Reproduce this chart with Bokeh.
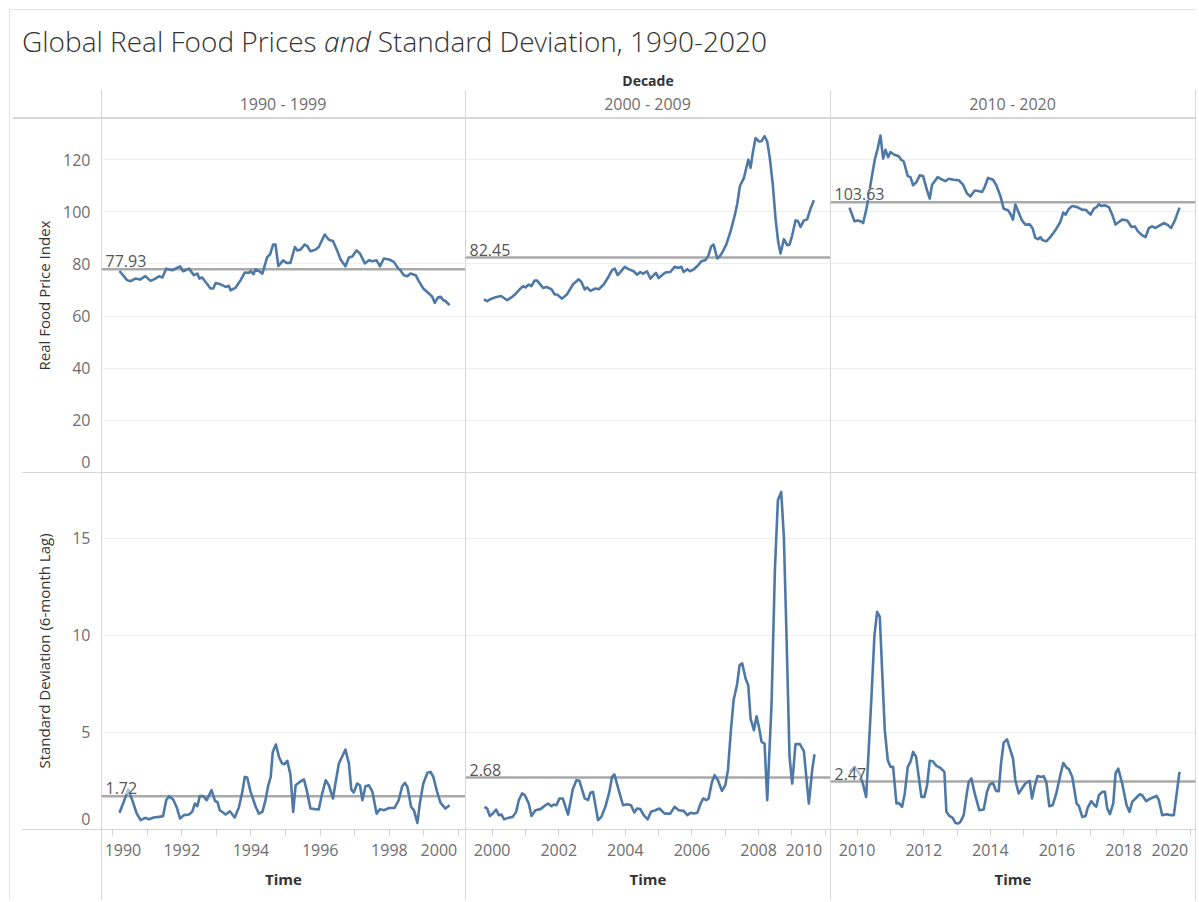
from bokeh.plotting import figure
from bokeh.layouts import column, row
from bokeh.models import Div, Range1d, FixedTicker, Label, Span, ColumnDataSource, Grid
from bokeh.embed import file_html
from bokeh.resources import INLINE

# ---------------- data ----------------
decade_labels = ["1990 - 1999", "2000 - 2009", "2010 - 2020"]
price_means = [77.93, 82.45, 103.63]
sd_means = [1.72, 2.68, 2.47]

price_ticks = [0, 20, 40, 60, 80, 100, 120]
sd_ticks = [0, 5, 10, 15]
time_ticks_1990s = [1990, 1992, 1994, 1996, 1998, 2000]
time_ticks_2000s = [2000, 2002, 2004, 2006, 2008, 2010]
time_ticks_2010s = [2010, 2012, 2014, 2016, 2018, 2020]
minor_1990s = [1991, 1993, 1995, 1997, 1999]
minor_2000s = [2001, 2003, 2005, 2007, 2009]
minor_2010s = [2011, 2013, 2015, 2017, 2019]

price_t_1990s = [1990.20, 1990.42, 1990.52, 1990.66, 1990.79, 1990.95, 1991.10, 1991.24, 1991.34, 1991.44,
                 1991.55, 1991.73, 1991.82, 1991.95, 1992.04, 1992.21, 1992.35, 1992.45, 1992.51, 1992.59,
                 1992.69, 1992.83, 1992.91, 1992.98, 1993.12, 1993.27, 1993.36, 1993.41, 1993.55, 1993.70,
                 1993.82, 1993.94, 1993.99, 1994.07, 1994.13, 1994.23, 1994.33, 1994.47, 1994.55, 1994.64,
                 1994.71, 1994.79, 1994.93, 1995.03, 1995.14, 1995.27, 1995.34, 1995.43, 1995.55, 1995.63,
                 1995.72, 1995.87, 1995.96, 1996.13, 1996.25, 1996.37, 1996.49, 1996.59, 1996.73, 1996.83,
                 1996.93, 1997.05, 1997.15, 1997.29, 1997.41, 1997.51, 1997.63, 1997.73, 1997.84, 1997.99,
                 1998.13, 1998.26, 1998.30, 1998.42, 1998.52, 1998.61, 1998.76, 1998.85, 1998.98, 1999.14,
                 1999.24, 1999.31, 1999.40, 1999.48, 1999.56, 1999.62, 1999.74]
price_1990s = [77.3, 73.8, 73.4, 74.4, 74.0, 75.3, 73.5, 74.4, 75.3, 74.8,
               78.2, 77.6, 78.2, 79.1, 77.2, 78.2, 75.7, 76.3, 74.4, 74.8,
               73.1, 70.6, 70.6, 72.7, 72.2, 71.2, 71.6, 69.9, 70.8, 73.8,
               76.7, 76.6, 77.3, 76.1, 77.9, 77.3, 76.3, 82.7, 83.6, 87.4,
               87.4, 79.2, 81.4, 80.4, 80.4, 86.5, 85.2, 85.5, 87.4, 86.8,
               84.9, 85.5, 86.5, 91.3, 89.3, 88.8, 85.2, 81.7, 79.1, 82.5,
               82.9, 85.2, 84.0, 80.2, 81.4, 81.0, 81.4, 79.1, 82.1, 81.7,
               80.8, 78.2, 77.9, 75.7, 75.3, 76.3, 75.7, 73.4, 70.6, 68.7,
               67.4, 65.1, 67.1, 67.4, 66.1, 65.8, 64.2]

price_t_2000s = [1999.75, 1999.85, 1999.95, 2000.10, 2000.27, 2000.45, 2000.60, 2000.72, 2000.82, 2000.93,
                 2001.00, 2001.10, 2001.18, 2001.27, 2001.35, 2001.53, 2001.63, 2001.78, 2001.88, 2001.95,
                 2002.10, 2002.25, 2002.43, 2002.60, 2002.68, 2002.78, 2002.85, 2002.95, 2003.10, 2003.20,
                 2003.35, 2003.48, 2003.60, 2003.68, 2003.77, 2003.85, 2003.98, 2004.10, 2004.25, 2004.35,
                 2004.45, 2004.53, 2004.65, 2004.75, 2004.85, 2004.92, 2005.00, 2005.10, 2005.20, 2005.35,
                 2005.48, 2005.60, 2005.68, 2005.75, 2005.86, 2005.94, 2006.05, 2006.16, 2006.28, 2006.40,
                 2006.49, 2006.58, 2006.65, 2006.76, 2006.83, 2006.91, 2007.03, 2007.16, 2007.29, 2007.36,
                 2007.44, 2007.56, 2007.69, 2007.76, 2007.83, 2007.91, 2008.01, 2008.09, 2008.18, 2008.26,
                 2008.34, 2008.43, 2008.51, 2008.59, 2008.66, 2008.76, 2008.86, 2008.93, 2009.01, 2009.11,
                 2009.18, 2009.26, 2009.36, 2009.46, 2009.56, 2009.66]
price_2000s = [66.4, 65.7, 66.5, 67.2, 67.7, 66.1, 67.4, 68.7, 70.2, 71.5,
               71.0, 72.1, 71.5, 73.6, 73.6, 70.8, 71.2, 70.3, 68.3, 68.3,
               66.7, 68.4, 72.2, 74.1, 73.1, 70.2, 71.0, 69.7, 70.6, 70.3,
               72.1, 74.8, 77.6, 78.2, 75.7, 76.9, 78.9, 78.0, 77.2, 75.9,
               76.9, 76.3, 77.2, 74.4, 75.7, 76.6, 74.6, 75.7, 76.7, 76.9,
               78.9, 78.5, 78.9, 76.9, 78.0, 77.2, 77.9, 79.2, 81.0, 81.4,
               83.1, 86.8, 87.4, 82.1, 82.9, 84.4, 87.4, 92.6, 98.9, 103.1,
               109.9, 113.0, 120.0, 116.9, 122.9, 128.3, 127.0, 127.1, 129.0, 127.0,
               120.4, 110.2, 97.4, 88.4, 84.0, 89.5, 87.2, 87.4, 91.0, 96.7,
               96.5, 94.2, 96.7, 97.1, 101.2, 104.4]

price_t_2010s = [2009.77, 2009.92, 2010.02, 2010.10, 2010.18, 2010.28, 2010.35, 2010.43, 2010.53, 2010.62,
                 2010.70, 2010.78, 2010.85, 2010.93, 2011.00, 2011.12, 2011.25, 2011.32, 2011.40, 2011.52,
                 2011.60, 2011.68, 2011.78, 2011.88, 2011.98, 2012.10, 2012.18, 2012.25, 2012.42, 2012.50,
                 2012.65, 2012.75, 2012.90, 2013.05, 2013.18, 2013.30, 2013.40, 2013.53, 2013.65, 2013.75,
                 2013.83, 2013.93, 2014.08, 2014.18, 2014.30, 2014.40, 2014.53, 2014.60, 2014.68, 2014.75,
                 2014.85, 2014.95, 2015.05, 2015.18, 2015.27, 2015.35, 2015.44, 2015.50, 2015.57, 2015.68,
                 2015.80, 2015.95, 2016.10, 2016.19, 2016.26, 2016.36, 2016.46, 2016.61, 2016.76, 2016.86,
                 2017.01, 2017.11, 2017.19, 2017.26, 2017.33, 2017.43, 2017.56, 2017.66, 2017.76, 2017.86,
                 2017.96, 2018.11, 2018.24, 2018.34, 2018.43, 2018.56, 2018.66, 2018.76, 2018.86, 2018.96,
                 2019.09, 2019.21, 2019.31, 2019.43, 2019.54, 2019.68]
price_2010s = [101.6, 96.4, 96.7, 96.4, 95.7, 101.2, 106.3, 112.7, 120.0, 124.4,
               129.3, 120.4, 123.8, 121.0, 122.9, 121.9, 121.3, 120.0, 119.3, 113.7,
               113.3, 110.2, 111.4, 114.0, 113.7, 108.2, 105.1, 110.4, 113.3, 112.7,
               111.8, 112.7, 112.3, 112.1, 110.4, 107.0, 105.9, 108.2, 108.0, 107.6,
               109.5, 113.0, 112.3, 110.2, 106.1, 101.2, 100.6, 99.3, 97.0, 102.8,
               99.7, 96.7, 95.1, 95.2, 93.6, 90.0, 89.5, 90.3, 89.1, 88.7,
               90.3, 92.9, 96.1, 99.7, 98.9, 101.2, 102.2, 101.8, 100.8, 100.8,
               98.9, 101.2, 101.8, 102.9, 102.2, 102.5, 101.8, 98.9, 95.1, 96.1,
               97.0, 96.7, 94.2, 94.4, 92.5, 91.0, 90.3, 93.8, 94.4, 93.8,
               94.8, 95.7, 95.1, 93.8, 96.7, 101.6]

sd_t_1990s = [1990.20, 1990.33, 1990.45, 1990.57, 1990.69, 1990.81, 1990.95, 1991.05, 1991.19, 1991.34,
              1991.46, 1991.55, 1991.63, 1991.75, 1991.85, 1991.95, 1992.06, 1992.21, 1992.30, 1992.38,
              1992.45, 1992.52, 1992.62, 1992.72, 1992.86, 1992.96, 1993.03, 1993.10, 1993.27, 1993.39,
              1993.53, 1993.65, 1993.75, 1993.82, 1993.89, 1993.99, 1994.13, 1994.23, 1994.33, 1994.42,
              1994.49, 1994.57, 1994.63, 1994.72, 1994.81, 1994.90, 1994.97, 1995.05, 1995.14, 1995.22,
              1995.29, 1995.41, 1995.53, 1995.61, 1995.72, 1995.85, 1995.96, 1996.05, 1996.16, 1996.25,
              1996.37, 1996.44, 1996.54, 1996.73, 1996.83, 1996.90, 1996.97, 1997.07, 1997.15, 1997.22,
              1997.31, 1997.41, 1997.51, 1997.63, 1997.73, 1997.84, 1997.99, 1998.15, 1998.27, 1998.37,
              1998.45, 1998.52, 1998.63, 1998.71, 1998.81, 1998.88, 1998.98, 1999.10, 1999.19, 1999.27,
              1999.38, 1999.48, 1999.62, 1999.74]
sd_1990s = [0.86, 1.46, 2.06, 1.51, 0.86, 0.48, 0.60, 0.53, 0.62, 0.65,
            0.69, 1.51, 1.72, 1.55, 1.16, 0.57, 0.74, 0.77, 0.91, 1.34,
            1.20, 1.72, 1.72, 1.51, 2.03, 1.47, 1.42, 0.99, 0.77, 0.94,
            0.62, 1.13, 1.94, 2.71, 2.68, 1.94, 1.20, 0.82, 0.91, 1.51,
            2.20, 2.71, 4.00, 4.38, 3.74, 3.40, 3.37, 3.54, 2.84, 0.91,
            2.28, 2.45, 2.58, 2.03, 1.08, 1.05, 1.03, 1.80, 2.54, 2.28,
            1.60, 2.37, 3.40, 4.12, 3.40, 2.06, 1.91, 2.37, 2.28, 1.51,
            2.23, 2.28, 1.94, 0.82, 1.05, 0.99, 1.11, 1.11, 1.51, 2.23,
            2.40, 2.20, 1.16, 0.99, 0.34, 1.34, 2.37, 2.92, 2.97, 2.71,
            1.94, 1.37, 1.08, 1.25]

sd_t_2000s = [1999.77, 1999.85, 1999.93, 2000.02, 2000.12, 2000.20, 2000.28, 2000.36, 2000.48, 2000.62,
              2000.72, 2000.80, 2000.90, 2000.98, 2001.10, 2001.18, 2001.30, 2001.45, 2001.60, 2001.68,
              2001.78, 2001.85, 2001.93, 2002.02, 2002.12, 2002.28, 2002.42, 2002.53, 2002.62, 2002.78,
              2002.88, 2002.95, 2003.03, 2003.18, 2003.28, 2003.40, 2003.52, 2003.60, 2003.67, 2003.80,
              2003.93, 2004.05, 2004.17, 2004.27, 2004.35, 2004.45, 2004.55, 2004.67, 2004.77, 2004.90,
              2005.02, 2005.18, 2005.35, 2005.48, 2005.60, 2005.75, 2005.86, 2005.96, 2006.05, 2006.16,
              2006.26, 2006.34, 2006.43, 2006.50, 2006.60, 2006.68, 2006.78, 2006.90, 2007.00, 2007.08,
              2007.17, 2007.25, 2007.36, 2007.43, 2007.51, 2007.61, 2007.69, 2007.76, 2007.86, 2007.94,
              2008.01, 2008.09, 2008.18, 2008.26, 2008.39, 2008.49, 2008.58, 2008.68, 2008.76, 2008.84,
              2008.93, 2009.01, 2009.11, 2009.24, 2009.36, 2009.51, 2009.61, 2009.68]
sd_2000s = [1.17, 1.08, 0.69, 0.82, 1.03, 0.74, 0.77, 0.52, 0.60, 0.65,
            0.91, 1.51, 1.86, 1.77, 1.34, 0.70, 0.99, 1.05, 1.25, 1.34,
            1.20, 1.29, 1.25, 1.60, 1.60, 0.77, 2.06, 2.54, 2.51, 1.60,
            1.51, 1.89, 1.94, 0.48, 0.65, 1.17, 1.94, 2.71, 2.84, 2.03,
            1.25, 1.30, 1.25, 0.88, 1.08, 1.05, 0.74, 0.52, 0.91, 0.99,
            1.08, 0.82, 0.82, 1.17, 0.99, 0.96, 0.74, 0.86, 0.82, 0.86,
            1.34, 1.60, 1.51, 1.60, 2.45, 2.80, 2.54, 1.99, 2.28, 3.06,
            5.12, 6.66, 7.53, 8.47, 8.56, 7.78, 7.44, 5.72, 5.12, 5.84,
            5.29, 4.52, 4.43, 1.51, 6.49, 13.37, 16.97, 17.40, 15.08, 9.93,
            3.74, 2.37, 4.40, 4.40, 4.04, 1.34, 3.06, 3.88]

sd_t_2010s = [2009.77, 2009.93, 2010.10, 2010.17, 2010.27, 2010.33, 2010.42, 2010.52, 2010.60, 2010.68,
              2010.75, 2010.83, 2010.92, 2011.00, 2011.08, 2011.18, 2011.25, 2011.35, 2011.43, 2011.52,
              2011.60, 2011.68, 2011.77, 2011.85, 2011.93, 2012.02, 2012.10, 2012.18, 2012.27, 2012.38,
              2012.50, 2012.62, 2012.68, 2012.77, 2012.87, 2012.95, 2013.03, 2013.10, 2013.20, 2013.30,
              2013.35, 2013.43, 2013.53, 2013.67, 2013.80, 2013.90, 2013.98, 2014.08, 2014.17, 2014.25,
              2014.32, 2014.40, 2014.50, 2014.68, 2014.75, 2014.85, 2014.95, 2015.05, 2015.18, 2015.25,
              2015.33, 2015.42, 2015.53, 2015.60, 2015.68, 2015.77, 2015.87, 2015.98, 2016.10, 2016.19,
              2016.29, 2016.36, 2016.46, 2016.59, 2016.66, 2016.76, 2016.86, 2016.92, 2017.03, 2017.11,
              2017.18, 2017.26, 2017.36, 2017.44, 2017.51, 2017.59, 2017.69, 2017.76, 2017.84, 2017.96,
              2018.09, 2018.18, 2018.26, 2018.36, 2018.49, 2018.56, 2018.68, 2018.81, 2018.99, 2019.06,
              2019.16, 2019.31, 2019.41, 2019.51, 2019.68]
sd_2010s = [3.00, 3.20, 2.80, 2.37, 1.68, 3.57, 6.49, 10.02, 11.22, 10.96,
            8.21, 5.12, 3.57, 3.23, 3.23, 1.34, 1.37, 1.17, 1.86, 3.23,
            3.48, 4.00, 3.74, 2.71, 1.68, 1.68, 2.28, 3.54, 3.52, 3.28,
            3.18, 2.97, 0.91, 0.70, 0.60, 0.34, 0.31, 0.39, 0.74, 1.94,
            2.45, 2.63, 1.86, 0.99, 1.03, 1.94, 2.32, 2.40, 1.99, 1.97,
            3.40, 4.48, 4.64, 3.66, 2.54, 1.86, 2.11, 2.37, 2.51, 1.60,
            2.23, 2.76, 2.71, 2.75, 2.45, 1.20, 1.25, 1.86, 2.80, 3.43,
            3.18, 3.11, 2.71, 1.34, 1.20, 0.65, 0.70, 1.11, 1.46, 1.29,
            1.17, 1.77, 1.94, 1.94, 1.08, 0.79, 1.34, 2.89, 3.14, 2.37,
            1.25, 0.91, 1.42, 1.60, 1.82, 1.77, 1.46, 1.60, 1.73, 1.51,
            0.74, 0.79, 0.74, 0.74, 2.97]

# ---------------- styling / layout ----------------
FONT = "Open Sans"
BLUE = "#4e79a7"
PANE = "#d6d6d6"
OUTER = "#e4e4e4"
TICK_COLOR = "#6e6e6e"
NB = "\u00a0"

price_t = [price_t_1990s, price_t_2000s, price_t_2010s]
price_v = [price_1990s, price_2000s, price_2010s]
sd_t = [sd_t_1990s, sd_t_2000s, sd_t_2010s]
sd_v = [sd_1990s, sd_2000s, sd_2010s]
x_ticks = [time_ticks_1990s, time_ticks_2000s, time_ticks_2010s]
x_minor = [minor_1990s, minor_2000s, minor_2010s]
x_ranges = [(1989.68, 2000.20), (1999.20, 2010.16), (2009.20, 2020.16)]
# Tableau nudges the outermost year labels inside the pane
label_over = [
    {time_ticks_1990s[0]: NB * 5 + str(time_ticks_1990s[0]), time_ticks_1990s[-1]: str(time_ticks_1990s[-1]) + NB * 2},
    {time_ticks_2000s[-1]: str(time_ticks_2000s[-1]) + NB * 2},
    {time_ticks_2010s[-1]: str(time_ticks_2010s[-1]) + NB * 2},
]

LEFT = 101            # width of the y-axis area (page x of the first pane border)
FRAME_W = [364, 365, 365]
HDR_H = 118
TOP_H = 354
BOT_FRAME_H = 357
BOT_AXIS_H = 71
ZERO_LIFT_PX = 10.5   # Tableau lifts the "0" label inside the pane


def css_lines(segs):
    parts = []
    for x, y, w, h, c in segs:
        parts.append(f"linear-gradient({c},{c}) {x}px {y}px / {w} {h} no-repeat")
    return {"background": ", ".join(parts)}


def make_panel(i, top):
    left = LEFT if i == 0 else 0
    right = 1 if i == 2 else 0
    width = left + FRAME_W[i] + right
    frame_h = TOP_H if top else BOT_FRAME_H
    height = TOP_H if top else BOT_FRAME_H + BOT_AXIS_H
    yr = (0, 135.8) if top else (0, 18.4)
    p = figure(width=width, height=height, output_backend="svg", toolbar_location=None,
               x_range=Range1d(*x_ranges[i]), y_range=Range1d(*yr),
               x_axis_location=None if top else "below",
               y_axis_location="left" if i == 0 else None,
               min_border_left=left, min_border_right=right,
               min_border_top=0, min_border_bottom=0 if top else BOT_AXIS_H)
    p.outline_line_color = None
    p.border_fill_alpha = 0
    p.background_fill_alpha = 0
    p.grid.visible = False
    yt = price_ticks if top else sd_ticks
    p.add_layout(Grid(dimension=1, ticker=FixedTicker(ticks=yt), grid_line_color="#eeeeee", grid_line_width=1))

    # pane borders drawn as CSS lines behind the transparent canvas
    segs = []
    if i == 0:
        segs += [(9, 0, "1px", "100%", OUTER), (LEFT, 0, "1px", "100%", PANE)]
        if top:
            segs += [(13, 0, f"{width - 13}px", "1px", PANE)]
        else:
            segs += [(22, 0, f"{width - 22}px", "1px", PANE), (22, BOT_FRAME_H, f"{width - 22}px", "1px", PANE)]
    else:
        segs += [(0, 0, "1px", "100%", PANE), (0, 0, "100%", "1px", PANE)]
        if not top:
            segs += [(0, BOT_FRAME_H, "100%", "1px", PANE)]
        if i == 2:
            segs += [(width - 1, 0, "1px", "100%", PANE)]
    p.styles = css_lines(segs)

    if i == 0:
        ax = p.yaxis[0]
        zero_pos = round(yt[0] + ZERO_LIFT_PX * (yr[1] - yr[0]) / frame_h, 3)
        ax.ticker = FixedTicker(ticks=[zero_pos] + yt[1:])
        ax.major_label_overrides = {zero_pos: str(yt[0])}
        ax.axis_label = "Real Food Price Index" if top else "Standard Deviation (6-month Lag)"
        ax.axis_label_text_font = FONT
        ax.axis_label_text_font_size = "15px"
        ax.axis_label_text_font_style = "normal"
        ax.axis_label_text_color = "#333333"
        ax.axis_label_standoff = 6 if top else 15
        ax.major_label_text_font = FONT
        ax.major_label_text_font_size = "16px"
        ax.major_label_text_color = TICK_COLOR
        ax.major_label_standoff = 5
        ax.axis_line_color = None
        ax.major_tick_line_color = None
        ax.minor_tick_line_color = None

    if not top:
        ax = p.xaxis[0]
        ax.ticker = FixedTicker(ticks=x_ticks[i], minor_ticks=x_minor[i])
        ax.major_label_overrides = label_over[i]
        ax.axis_label = "Time"
        ax.axis_label_text_font = FONT
        ax.axis_label_text_font_size = "15px"
        ax.axis_label_text_font_style = "bold"
        ax.axis_label_text_color = "#333333"
        ax.axis_label_standoff = 5
        ax.major_label_text_font = FONT
        ax.major_label_text_font_size = "16px"
        ax.major_label_text_color = TICK_COLOR
        ax.major_label_standoff = 3
        ax.axis_line_color = None
        ax.major_tick_line_color = "#d0d0d0"
        ax.minor_tick_line_color = "#d0d0d0"
        ax.major_tick_in = 0
        ax.major_tick_out = 6
        ax.minor_tick_in = 0
        ax.minor_tick_out = 6

    mean = price_means[i] if top else sd_means[i]
    p.add_layout(Span(location=mean, dimension="width", line_color="#a9a9a9", line_width=2.5, level="underlay"))
    src = ColumnDataSource(dict(t=(price_t if top else sd_t)[i], v=(price_v if top else sd_v)[i]))
    p.line("t", "v", source=src, line_color=BLUE, line_width=2.6, line_join="round")
    p.add_layout(Label(x=x_ranges[i][0], y=mean, x_offset=4, y_offset=2, text=f"{mean:.2f}",
                       text_font=FONT, text_font_size="16px", text_color="#555555",
                       text_baseline="bottom", text_align="left",
                       background_fill_color="white", background_fill_alpha=0.55))
    return p


top_row = row(*[make_panel(i, True) for i in range(3)], spacing=0)
bot_row = row(*[make_panel(i, False) for i in range(3)], spacing=0)

W = LEFT + sum(FRAME_W) + 1
col_left = [LEFT, LEFT + FRAME_W[0], LEFT + FRAME_W[0] + FRAME_W[1], LEFT + sum(FRAME_W)]
hdr_parts = [
    f'<div style="position:relative;width:{W}px;height:{HDR_H}px;font-family:\'Open Sans\',sans-serif;">',
    f'<div style="position:absolute;left:9px;top:9px;width:{W - 9}px;height:1px;background:{OUTER}"></div>',
    f'<div style="position:absolute;left:9px;top:9px;width:1px;height:{HDR_H - 9}px;background:{OUTER}"></div>',
    '<div style="position:absolute;left:22px;top:24px;font-family:\'Open Sans Light\',\'Open Sans\',sans-serif;'
    'font-size:28px;line-height:34px;font-weight:300;'
    'color:#333333;white-space:nowrap;">Global Real Food Prices <i>and</i> Standard Deviation, 1990-2020</div>',
    f'<div style="position:absolute;left:{LEFT}px;width:{sum(FRAME_W)}px;top:72px;text-align:center;'
    'font-size:14px;line-height:18px;font-weight:bold;color:#333333;">Decade</div>',
    f'<div style="position:absolute;left:13px;top:{HDR_H - 1}px;width:{W - 13}px;height:1px;background:{PANE}"></div>',
]
for k, lab in enumerate(decade_labels):
    hdr_parts.append(f'<div style="position:absolute;left:{col_left[k]}px;width:{FRAME_W[k]}px;top:95px;'
                     f'text-align:center;font-size:16px;line-height:18px;color:{TICK_COLOR};white-space:nowrap;">{lab}</div>')
for k in range(4):
    hdr_parts.append(f'<div style="position:absolute;left:{col_left[k]}px;top:90px;width:1px;'
                     f'height:{HDR_H - 90}px;background:{PANE}"></div>')
hdr_parts.append('</div>')
header = Div(text="".join(hdr_parts), width=W, height=HDR_H, margin=(0, 0, 0, 0))

layout = column(header, top_row, bot_row, spacing=0)

with open("out.html", "w") as f:
    f.write(file_html(layout, INLINE))
